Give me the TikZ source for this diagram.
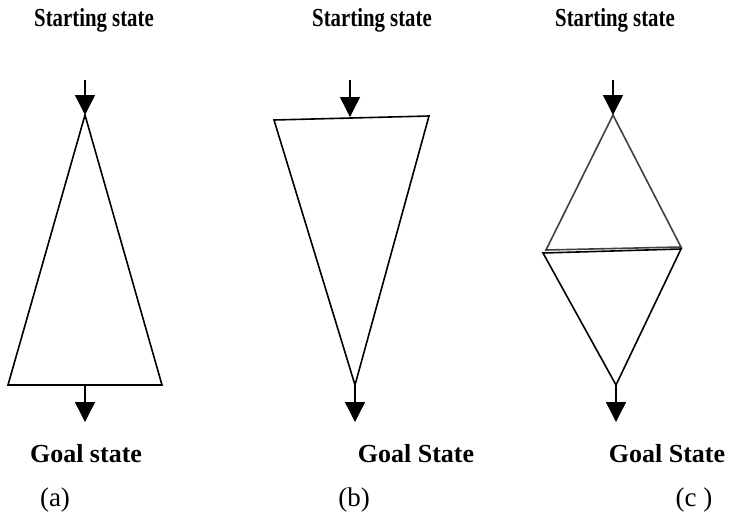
\documentclass[tikz,border=0pt]{standalone}
\usepackage{fontspec}
\setmainfont{Liberation Serif}
\usetikzlibrary{arrows.meta}
\begin{document}
\begin{tikzpicture}[x=1pt,y=-1pt,
  lbl/.style={font=\fontsize{26}{28}\selectfont\bfseries, inner sep=0pt, anchor=base},
  startlbl/.style={lbl, xscale=0.8},
  sublbl/.style={font=\fontsize{27}{29}\selectfont, inner sep=0pt, anchor=base},
  tri/.style={line width=1.6pt, line join=miter},
  arr/.style={line width=1.4pt, -{Triangle[length=20pt,width=20pt]}}]
\useasboundingbox (0,0) rectangle (729,514);
% labels
\node[startlbl] (s1) at (94,26) {Starting state};
\node[startlbl] (s2) at (372,26) {Starting state};
\node[startlbl] (s3) at (615,26) {Starting state};
\node[lbl] (g1) at (86,462) {Goal state};
\node[lbl] (g2) at (416,462) {Goal State};
\node[lbl] (g3) at (667,462) {Goal State};
\node[sublbl] (ca) at (55,506) {(a)};
\node[sublbl] (cb) at (354,506) {(b)};
\node[sublbl] (cc) at (694,506) {(c )};
% (a)
\coordinate (a1) at (85,115);
\coordinate (a2) at (8,385);
\coordinate (a3) at (162,385);
\coordinate (a4) at (85,385);
\coordinate (at) at (85,80);
\coordinate (ab) at (85,422);
\draw[tri] (a1) -- (a2) -- (a3) -- cycle;
\draw[arr] (at) -- (a1);
\draw[arr] (a4) -- (ab);
% (b)
\coordinate (b1) at (274,120);
\coordinate (b2) at (429,116);
\coordinate (b3) at (355,385);
\coordinate (bt) at (350,80);
\coordinate (bm) at (350,117);
\coordinate (bb) at (355,422);
\draw[tri] (b1) -- (b2) -- (b3) -- cycle;
\draw[arr] (bt) -- (bm);
\draw[arr] (b3) -- (bb);
% (c)
\coordinate (c1) at (613,115);
\coordinate (c2) at (546,250);
\coordinate (c3) at (681,247);
\coordinate (c4) at (543,253);
\coordinate (c5) at (681,249);
\coordinate (c6) at (616,385);
\coordinate (ct) at (613,80);
\coordinate (cb) at (616,422);
\draw[tri, draw=black!75] (c1) -- (c2) -- (c3) -- cycle;
\draw[tri] (c4) -- (c5) -- (c6) -- cycle;
\draw[arr] (ct) -- (c1);
\draw[arr] (c6) -- (cb);
\end{tikzpicture}
\end{document}
